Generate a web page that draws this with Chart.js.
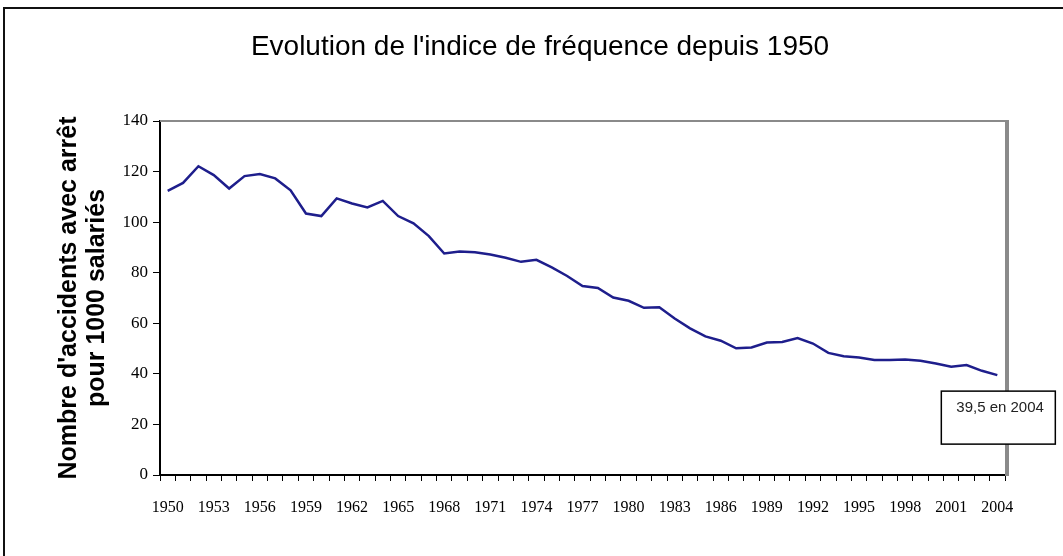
<!DOCTYPE html>
<html>
<head>
<meta charset="utf-8">
<script src="https://cdn.jsdelivr.net/npm/chart.js@4"></script>
<style>
  html, body { margin: 0; padding: 0; background: #fff; }
  #wrap { width: 1063px; height: 556px; }
</style>
</head>
<body>
<div id="wrap"><canvas id="freqChart"></canvas></div>
<script>
// annees et indice de frequence
var years = [];
for (var y = 1950; y <= 2004; y++) years.push(String(y));

var indice = [
  112.4, 115.5, 122.1, 118.6, 113.3, 118.2, 119.0, 117.3, 112.6, 103.4,
  102.4, 109.4, 107.4, 105.8, 108.4, 102.4, 99.5, 94.5, 87.6, 88.4,
  88.1, 87.2, 85.9, 84.3, 85.1, 82.1, 78.7, 74.7, 74.0, 70.2,
  68.9, 66.1, 66.3, 61.9, 58.0, 54.8, 53.1, 50.1, 50.4, 52.4,
  52.6, 54.2, 52.0, 48.3, 47.0, 46.5, 45.5, 45.5, 45.7, 45.2,
  44.1, 42.8, 43.5, 41.2, 39.5
];

var yTicks = [0, 20, 40, 60, 80, 100, 120, 140];
var titleText = "Evolution de l'indice de fréquence depuis 1950";
var yTitle = ["Nombre d'accidents avec arrêt", "pour 1000 salariés"];
var noteText = "39,5 en 2004";

// cadre exterieur, titre, bordure grise du trace, etiquette finale
var framePlugin = {
  id: 'frame',
  beforeDraw: function (chart) {
    var ctx = chart.ctx;
    ctx.save();
    ctx.fillStyle = '#fff';
    ctx.fillRect(0, 0, chart.width, chart.height);
    ctx.strokeStyle = '#111';
    ctx.lineWidth = 2;
    ctx.strokeRect(4, 8, chart.width + 20, chart.height + 20);

    ctx.fillStyle = '#000';
    ctx.font = '28px "Liberation Sans", Arial, sans-serif';
    ctx.textAlign = 'center';
    ctx.textBaseline = 'middle';
    ctx.fillText(titleText, 540, 47);
    ctx.restore();
  },
  afterDraw: function (chart) {
    var ctx = chart.ctx, a = chart.chartArea;
    ctx.save();
    ctx.strokeStyle = '#8a8a8a';
    ctx.lineWidth = 2;
    ctx.beginPath();
    ctx.moveTo(a.left, a.top);
    ctx.lineTo(a.right + 2, a.top);
    ctx.stroke();
    ctx.lineWidth = 4;
    ctx.beginPath();
    ctx.moveTo(a.right + 2, a.top - 1);
    ctx.lineTo(a.right + 2, a.bottom + 1);
    ctx.stroke();

    // boite "39,5 en 2004" sous le dernier point
    var xs = chart.scales.x, ys = chart.scales.y;
    var last = indice.length - 1;
    var px = xs.getPixelForValue(last), py = ys.getPixelForValue(indice[last]);
    var bx = px - 56, by = py + 16, bw = 114, bh = 53;
    ctx.fillStyle = '#fff';
    ctx.fillRect(bx, by, bw, bh);
    ctx.strokeStyle = '#000';
    ctx.lineWidth = 1.5;
    ctx.strokeRect(bx, by, bw, bh);
    ctx.fillStyle = '#222';
    ctx.font = '15px "Liberation Sans", Arial, sans-serif';
    ctx.textBaseline = 'middle';
    ctx.textAlign = 'left';
    ctx.fillText(noteText, bx + 15, by + 17);
    ctx.restore();
  }
};

var ctx = document.getElementById('freqChart');
var freqChart = new Chart(ctx, {
  type: 'line',
  data: {
    labels: years,
    datasets: [{
      data: indice,
      borderColor: '#1e1e8c',
      borderWidth: 2.5,
      pointRadius: 0,
      tension: 0,
      fill: false
    }]
  },
  options: {
    responsive: true,
    maintainAspectRatio: false,
    animation: false,
    layout: { padding: { left: 0, right: 58, top: 121, bottom: 0 } },
    plugins: {
      legend: { display: false },
      tooltip: { enabled: false },
      title: { display: false }
    },
    scales: {
      x: {
        offset: true,
        grid: { display: true, drawOnChartArea: false, offset: true, tickLength: 6, color: '#000', lineWidth: 1 },
        border: { color: '#000', width: 2 },
        ticks: {
          autoSkip: false,
          maxRotation: 0,
          minRotation: 0,
          padding: 17,
          color: '#000',
          font: { family: '"Liberation Serif", "Times New Roman", serif', size: 16 },
          callback: function (v, i) { return i % 3 === 0 ? years[i] : ''; }
        },
        afterFit: function (s) { s.height = 81; }
      },
      y: {
        min: 0,
        max: 140,
        afterBuildTicks: function (s) { s.ticks = yTicks.map(function (v) { return { value: v }; }); },
        grid: { display: true, drawOnChartArea: false, tickLength: 7, color: '#000', lineWidth: 1 },
        border: { color: '#000', width: 2 },
        ticks: {
          padding: 5,
          color: '#000',
          font: { family: '"Liberation Serif", "Times New Roman", serif', size: 17 }
        },
        title: {
          display: true,
          text: yTitle,
          color: '#000',
          font: { family: '"Liberation Sans", Arial, sans-serif', size: 25, weight: 'bold', lineHeight: 1.12 },
          padding: { top: 55, bottom: 0 }
        },
        afterFit: function (s) { s.width = 160; }
      }
    }
  },
  plugins: [framePlugin]
});
</script>
</body>
</html>
